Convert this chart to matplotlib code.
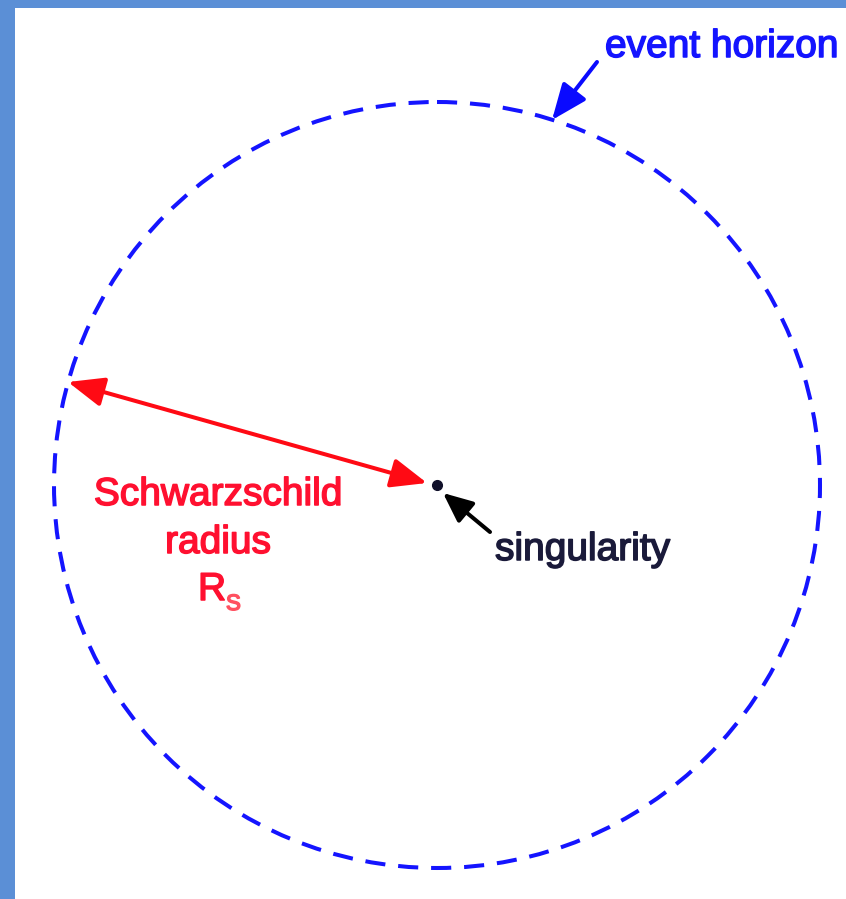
import matplotlib.pyplot as plt
import matplotlib.patheffects as pe
from matplotlib.patches import Circle, Rectangle, FancyArrowPatch

plt.rcParams['font.family'] = ['Liberation Sans', 'DejaVu Sans']

# picture coordinates in pixels (y grows downward)
W, H = 846, 899
center = (437, 485)
radius = 383

radius_arrow = [(68, 382), (427, 483)]
sing_arrow = [(490, 532), (443, 493)]
horizon_arrow = [(597, 62), (552, 120)]

red_lines = ['Schwarzschild', 'radius']
red_baselines = [505, 553]

fig = plt.figure(figsize=(W / 100, H / 100), dpi=100)
ax = fig.add_axes([0, 0, 1, 1])
ax.set_xlim(0, W)
ax.set_ylim(H, 0)
ax.axis('off')

# blue frame on left and top
border = '#5b8fd6'
ax.add_patch(Rectangle((0, 0), 15, H, color=border, lw=0))
ax.add_patch(Rectangle((0, 0), W, 8, color=border, lw=0))

# event horizon
ax.add_patch(Circle(center, radius, fill=False, ec='#1414ff', lw=2.9,
                    linestyle=(0, (5.0, 3.2))))

# singularity dot
ax.plot(*center, 'o', ms=7, color='#10102a')


def arrow(p, style, color):
    a = FancyArrowPatch(p[0], p[1], arrowstyle=style, mutation_scale=10,
                        color=color, lw=2.9, shrinkA=0, shrinkB=0)
    ax.add_patch(a)


def label(x, y, s, color, size=28, ha='left'):
    t = ax.text(x, y, s, fontsize=size, color=color, ha=ha, va='baseline')
    t.set_path_effects([pe.withStroke(linewidth=1.1, foreground=color)])


arrow(radius_arrow, '<|-|>,head_length=2.2,head_width=0.9', '#ff0a14')
arrow(sing_arrow, '-|>,head_length=1.8,head_width=0.8', '#000000')
arrow(horizon_arrow, '-|>,head_length=2.2,head_width=0.9', '#0a0aff')

label(605, 57, 'event horizon', '#1414ff')
label(495, 560, 'singularity', '#1a1a3a')
for s, y in zip(red_lines, red_baselines):
    label(218, y, s, '#ff1030', ha='center')
label(198, 600, 'R', '#ff1030')
label(226, 610, 'S', '#ff5060', size=16)

fig.savefig('out.png', dpi=100)
